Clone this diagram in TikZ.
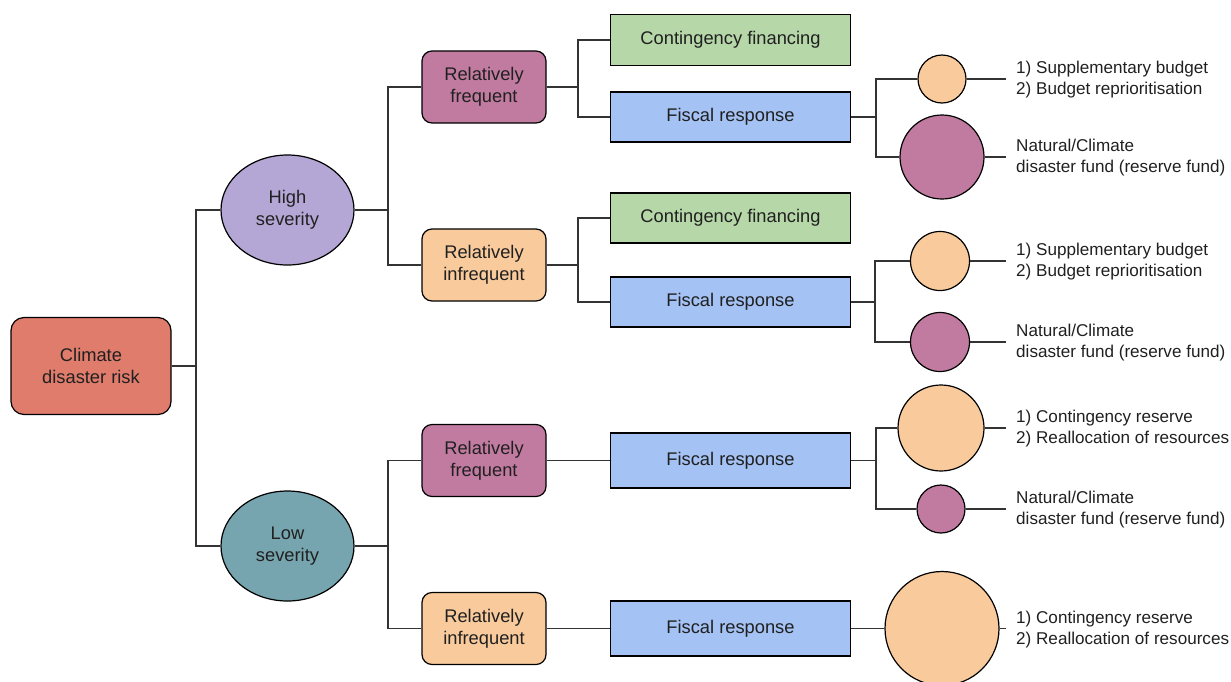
\documentclass[tikz,border=0pt]{standalone}
\usepackage{fontspec}
\setmainfont{Liberation Sans}
\usetikzlibrary{shapes.geometric}
\definecolor{cdrfill}{HTML}{E07C6C}
\definecolor{hsfill}{HTML}{B4A7D6}
\definecolor{lsfill}{HTML}{76A5AF}
\definecolor{freqfill}{HTML}{C27BA0}
\definecolor{infreqfill}{HTML}{F9CB9C}
\definecolor{cffill}{HTML}{B6D7A8}
\definecolor{frfill}{HTML}{A4C2F4}
\definecolor{txt}{HTML}{202020}
\definecolor{linec}{HTML}{333333}
\tikzset{
  base/.style={draw=black, line width=1.2pt, text=txt, align=center, inner sep=0pt,
    font=\fontsize{18.3}{22}\selectfont},
  rbox/.style={base, rectangle, rounded corners=10pt, minimum width=124pt, minimum height=72pt},
  sqbox/.style={base, rectangle, minimum width=240pt},
  ell/.style={base, ellipse, minimum width=133pt, minimum height=110pt},
  circ/.style={draw=black, line width=1.2pt, circle, inner sep=0pt},
  conn/.style={draw=linec, line width=1.3pt},
  lab/.style={anchor=west, align=left, text=txt, inner sep=0pt,
    font=\fontsize{17.1}{21}\selectfont}
}
\begin{document}
\begin{tikzpicture}[x=1pt,y=-1pt]
\useasboundingbox (0,0) rectangle (1231,681);

% level 0
\node[rbox, fill=cdrfill, minimum width=160pt, minimum height=97pt, rounded corners=13pt] (cdr) at (91,366) {Climate\\disaster risk};
% level 1
\node[ell, fill=hsfill] (hs) at (287.5,210) {High\\severity};
\node[ell, fill=lsfill] (ls) at (287.5,546) {Low\\severity};
% level 2
\node[rbox, fill=freqfill] (rf1) at (484,87) {Relatively\\frequent};
\node[rbox, fill=infreqfill] (ri1) at (484,265) {Relatively\\infrequent};
\node[rbox, fill=freqfill] (rf2) at (484,460.5) {Relatively\\frequent};
\node[rbox, fill=infreqfill] (ri2) at (484,628.5) {Relatively\\infrequent};
% level 3
\node[sqbox, fill=cffill, minimum height=51pt] (cf1) at (730.5,40) {Contingency financing};
\node[sqbox, fill=frfill, minimum height=50pt] (fr1) at (730.5,117) {Fiscal response};
\node[sqbox, fill=cffill, minimum height=50pt] (cf2) at (730.5,218) {Contingency financing};
\node[sqbox, fill=frfill, minimum height=50pt] (fr2) at (730.5,302) {Fiscal response};
\node[sqbox, fill=frfill, minimum height=55pt] (fr3) at (730.5,460.5) {Fiscal response};
\node[sqbox, fill=frfill, minimum height=55pt] (fr4) at (730.5,628.5) {Fiscal response};
% circles
\node[circ, fill=infreqfill, minimum size=48pt] (o1) at (942,79) {};
\node[circ, fill=freqfill, minimum size=84pt] (p1) at (942,157) {};
\node[circ, fill=infreqfill, minimum size=59pt] (o2) at (940,261) {};
\node[circ, fill=freqfill, minimum size=59pt] (p2) at (940,342) {};
\node[circ, fill=infreqfill, minimum size=86pt] (o3) at (941,428) {};
\node[circ, fill=freqfill, minimum size=48pt] (p3) at (941,509) {};
\node[circ, fill=infreqfill, minimum size=114pt] (o4) at (942,628.5) {};
% labels
\node[lab] (t1) at (1016,80) {1) Supplementary budget\\2) Budget reprioritisation};
\node[lab] (t2) at (1016,158) {Natural/Climate\\disaster fund (reserve fund)};
\node[lab] (t3) at (1016,262) {1) Supplementary budget\\2) Budget reprioritisation};
\node[lab] (t4) at (1016,343) {Natural/Climate\\disaster fund (reserve fund)};
\node[lab] (t5) at (1016,429) {1) Contingency reserve\\2) Reallocation of resources};
\node[lab] (t6) at (1016,510) {Natural/Climate\\disaster fund (reserve fund)};
\node[lab] (t7) at (1016,629.5) {1) Contingency reserve\\2) Reallocation of resources};

% junction coordinates
\coordinate (j0) at (196,366);
\coordinate (j1) at (388,210);
\coordinate (j2) at (388,546);
\coordinate (j3) at (578,87);
\coordinate (j4) at (578,265);
\coordinate (j5) at (876,117);
\coordinate (j6) at (875,302);
\coordinate (j7) at (876,460.5);
\coordinate (e1) at (1006,79);
\coordinate (e2) at (1006,157);
\coordinate (e3) at (1006,261);
\coordinate (e4) at (1006,342);
\coordinate (e5) at (1006,428);
\coordinate (e6) at (1006,509);
\coordinate (e7) at (1006,628.5);

% connectors
\draw[conn] (cdr) -- (j0);
\draw[conn] (hs.west) -| (j0) |- (ls.west);
\draw[conn] (hs) -- (j1);
\draw[conn] (rf1.west) -| (j1) |- (ri1.west);
\draw[conn] (ls) -- (j2);
\draw[conn] (rf2.west) -| (j2) |- (ri2.west);
\draw[conn] (rf1) -- (j3);
\draw[conn] (cf1.west) -| (j3) |- (fr1.west);
\draw[conn] (ri1) -- (j4);
\draw[conn] (cf2.west) -| (j4) |- (fr2.west);
\draw[conn] (rf2) -- (fr3);
\draw[conn] (ri2) -- (fr4);
\draw[conn] (fr1) -- (j5);
\draw[conn] (o1.west) -| (j5) |- (p1.west);
\draw[conn] (fr2) -- (j6);
\draw[conn] (o2.west) -| (j6) |- (p2.west);
\draw[conn] (fr3) -- (j7);
\draw[conn] (o3.west) -| (j7) |- (p3.west);
\draw[conn] (fr4) -- (o4);
\draw[conn] (o1) -- (e1);
\draw[conn] (p1) -- (e2);
\draw[conn] (o2) -- (e3);
\draw[conn] (p2) -- (e4);
\draw[conn] (o3) -- (e5);
\draw[conn] (p3) -- (e6);
\draw[conn] (o4) -- (e7);
\end{tikzpicture}
\end{document}
